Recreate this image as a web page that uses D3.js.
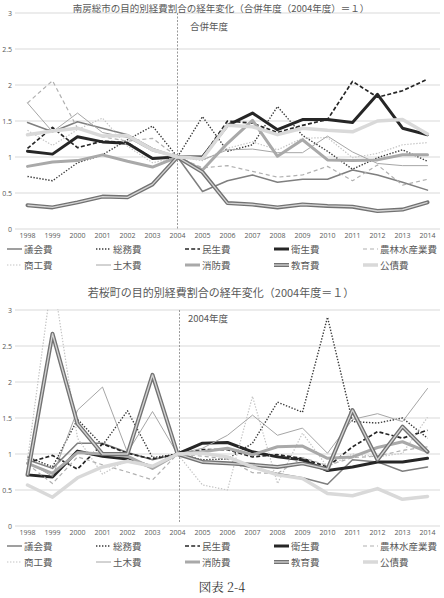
<!DOCTYPE html>
<html><head><meta charset="utf-8">
<script src="https://cdn.jsdelivr.net/npm/d3@7"></script>
<style>
html,body{margin:0;padding:0;background:#fff;}
svg{display:block;font-family:"Noto Sans CJK JP","Noto Sans",sans-serif;}
</style></head>
<body><svg id="c" width="444" height="598"></svg>
<script>
const years = ["1998","1999","2000","2001","2002","2003","2004","2005","2006","2007","2008","2009","2010","2011","2012","2013","2014"];
const yTicks = [0, 0.5, 1, 1.5, 2, 2.5, 3];
const yTickLabels = ["0","0.5","1","1.5","2","2.5","3"];
const seriesNames = ["議会費","総務費","民生費","衛生費","農林水産業費","商工費","土木費","消防費","教育費","公債費"];

// 南房総市 (2004 = 1)
const mbGikai   = [1.48,1.35,1.49,1.40,1.31,1.12,1,0.52,0.67,0.75,0.65,0.69,0.69,0.82,0.75,0.65,0.54];
const mbSomu    = [0.73,0.67,0.92,1.03,1.24,1.43,1,1.56,1.08,1.17,1.70,1.30,1.08,0.83,0.99,1.10,0.94];
const mbMinsei  = [1.12,1.41,1.13,1.22,1.20,0.98,1,1.00,1.50,1.47,1.34,1.44,1.52,2.05,1.83,1.92,2.08];
const mbEisei   = [1.08,1.04,1.28,1.21,1.19,0.98,1,1.00,1.44,1.61,1.38,1.52,1.52,1.48,1.87,1.40,1.31];
const mbNorin   = [1.75,2.06,1.40,1.28,1.22,1.26,1,0.85,0.88,0.80,0.72,0.75,0.87,0.67,0.89,0.61,0.69];
const mbShoko   = [1.37,1.16,1.38,1.54,1.15,0.92,1,0.95,1.12,1.21,1.10,1.26,1.27,0.99,1.05,1.17,1.20];
const mbDoboku  = [1.75,1.35,1.61,1.34,1.27,1.08,1,0.96,1.10,1.11,1.06,1.06,1.29,1.07,0.91,0.88,0.88];
const mbShobo   = [0.87,0.93,0.95,1.03,0.94,0.86,1,0.82,1.19,1.51,1.01,1.24,0.96,0.95,0.96,1.03,1.03];
const mbKyoiku  = [0.33,0.30,0.37,0.45,0.44,0.62,1,0.79,0.36,0.34,0.30,0.34,0.32,0.31,0.25,0.27,0.37];
const mbKosai   = [1.31,1.36,1.40,1.29,1.30,1.10,1,0.98,1.44,1.42,1.31,1.40,1.37,1.35,1.50,1.52,1.32];

// 若桜町 (2004 = 1)
const wkGikai   = [0.92,0.80,1.15,1.15,1.02,0.92,1,0.90,0.88,0.81,0.73,0.67,0.58,0.92,0.89,0.76,0.82];
const wkSomu    = [0.96,0.82,1.48,1.12,1.60,0.95,1,0.92,0.93,1.15,1.72,1.58,2.90,1.45,1.43,1.50,1.22];
const wkMinsei  = [0.88,0.98,0.79,1.14,1.01,0.93,1,1.06,1.06,0.96,0.99,0.94,0.82,1.10,1.31,1.22,1.33];
const wkEisei   = [0.71,0.68,1.04,0.97,0.93,0.82,1,1.15,1.16,1.03,0.96,0.92,0.77,0.82,0.89,0.89,0.94];
const wkNorin   = [0.86,0.59,0.96,0.85,0.75,0.64,1,0.97,0.93,0.74,0.73,0.95,0.84,0.95,0.97,1.05,1.10];
const wkShoko   = [0.92,3.50,1.22,0.72,0.92,0.80,1,0.57,0.50,1.80,0.59,1.29,0.82,1.00,0.96,1.01,1.51];
const wkDoboku  = [0.89,0.69,1.61,1.93,1.02,1.59,1,1.08,1.26,1.54,1.26,1.36,1.01,1.48,1.56,1.45,1.91];
const wkShobo   = [0.87,0.73,1.02,1.00,0.97,0.80,1,1.03,1.08,0.99,1.10,1.11,0.94,0.96,1.09,1.17,1.03];
const wkKyoiku  = [0.71,2.67,1.42,1.00,1.00,2.10,1,0.89,0.87,0.85,0.82,0.87,0.79,1.61,0.92,1.38,1.03];
const wkKosai   = [0.57,0.40,0.67,0.82,0.90,0.83,1,1.01,0.96,0.82,0.71,0.66,0.45,0.42,0.52,0.37,0.41];

const mbData = [mbGikai,mbSomu,mbMinsei,mbEisei,mbNorin,mbShoko,mbDoboku,mbShobo,mbKyoiku,mbKosai];
const wkData = [wkGikai,wkSomu,wkMinsei,wkEisei,wkNorin,wkShoko,wkDoboku,wkShobo,wkKyoiku,wkKosai];

const styles = [
  {c:"#7f7f7f", w:1.5},
  {c:"#3a3a3a", w:1.4, d:"1.4,1.6"},
  {c:"#262626", w:1.7, d:"4,2.2"},
  {c:"#262626", w:3},
  {c:"#b0b0b0", w:1.2, d:"4,3"},
  {c:"#c4c4c4", w:1.2, d:"1.4,1.6"},
  {c:"#a6a6a6", w:1},
  {c:"#a9a9a9", w:3},
  {c:"#727272", w:4, inner:"#d4d4d4", iw:1.3},
  {c:"#d9d9d9", w:3.5}
];

const svg = d3.select("#c");
const textCol = "#595959";

const x = d3.scaleBand().domain(years).range([15, 440]).padding(0);
const cx = d => x(d) + x.bandwidth()/2;

function panel(opts){
  const y = d3.scaleLinear().domain([0,3]).range([opts.bottom, opts.top]);
  const g = svg.append("g");
  const clipId = "clip" + opts.id;
  svg.append("clipPath").attr("id", clipId).append("rect")
    .attr("x", 15).attr("y", opts.top - 1).attr("width", 426).attr("height", opts.bottom - opts.top + 2);

  g.selectAll("line.grid").data(yTicks).join("line")
    .attr("x1", 15).attr("x2", 440)
    .attr("y1", d => y(d)).attr("y2", d => y(d))
    .attr("stroke", "#d9d9d9").attr("stroke-width", 1);

  const yAxis = d3.axisLeft(y).tickValues(yTicks).tickFormat((d,i) => yTickLabels[i]).tickSize(0).tickPadding(2);
  const ya = g.append("g").attr("transform", "translate(14,0)").call(yAxis);
  ya.select(".domain").remove();
  ya.selectAll("text").attr("fill", textCol).style("font-size", "7px").style("font-family", "'Open Sans','Noto Sans',sans-serif");

  const xAxis = d3.axisBottom(x).tickSize(0).tickPadding(4);
  const xa = g.append("g").attr("transform", `translate(0,${opts.bottom})`).call(xAxis);
  xa.select(".domain").remove();
  xa.selectAll("text").attr("fill", textCol).style("font-size", "7px").style("font-family", "'Open Sans','Noto Sans',sans-serif");

  g.append("line")
    .attr("x1", cx("2004") + opts.vOff).attr("x2", cx("2004") + opts.vOff)
    .attr("y1", opts.top).attr("y2", opts.vBottom)
    .attr("stroke", "#9a9a9a").attr("stroke-width", 1).attr("stroke-dasharray", "2,1.5");
  g.append("text").attr("x", opts.labelX).attr("y", opts.labelY)
    .attr("fill", textCol).style("font-size", "9.5px").text(opts.label);

  const line = d3.line().x((d,i) => cx(years[i])).y(d => y(d));
  const lg = g.append("g").attr("clip-path", `url(#${clipId})`);
  opts.data.forEach((vals, k) => {
    const s = styles[k];
    lg.append("path").datum(vals).attr("d", line)
      .attr("fill", "none").attr("stroke", s.c).attr("stroke-width", s.w)
      .attr("stroke-linejoin", "round").attr("stroke-linecap", s.d ? "butt" : "round")
      .attr("stroke-dasharray", s.d || null);
    if (s.inner) {
      lg.append("path").datum(vals).attr("d", line)
        .attr("fill", "none").attr("stroke", s.inner).attr("stroke-width", s.iw)
        .attr("stroke-linejoin", "round");
    }
  });

  const colX = [7, 96, 185, 274, 363];
  seriesNames.forEach((name, k) => {
    const s = styles[k];
    const row = Math.floor(k / 5), col = k % 5;
    const lx = colX[col], ly = opts.legendY + row * 16;
    const lgi = g.append("g");
    lgi.append("line").attr("x1", lx).attr("x2", lx + 15).attr("y1", ly).attr("y2", ly)
      .attr("stroke", s.c).attr("stroke-width", s.w).attr("stroke-dasharray", s.d || null);
    if (s.inner) {
      lgi.append("line").attr("x1", lx).attr("x2", lx + 15).attr("y1", ly).attr("y2", ly)
        .attr("stroke", s.inner).attr("stroke-width", s.iw);
    }
    lgi.append("text").attr("x", lx + 17).attr("y", ly + 3.5)
      .attr("fill", textCol).style("font-size", "9.5px").text(name);
  });

  svg.append("text").attr("x", 221).attr("y", opts.titleY).attr("text-anchor", "middle")
    .attr("fill", textCol).style("font-size", opts.titleSize).text(opts.title);
}

panel({id:"a", top:13, bottom:229, vBottom:229, vOff:0, data:mbData,
  label:"合併年度", labelX:190, labelY:30, legendY:249,
  title:"南房総市の目的別経費割合の経年変化（合併年度（2004年度）＝１）", titleY:11.5, titleSize:"9.5px"});
panel({id:"b", top:310, bottom:526, vBottom:522, vOff:2, data:wkData,
  label:"2004年度", labelX:188, labelY:322, legendY:546,
  title:"若桜町の目的別経費割合の経年変化（2004年度＝１）", titleY:297, titleSize:"11px"});

svg.append("text").attr("x", 222).attr("y", 592).attr("text-anchor", "middle")
  .attr("fill", "#333").style("font-size", "12.5px")
  .style("font-family", "'Noto Serif CJK JP','Liberation Serif','Noto Sans CJK JP',serif")
  .text("図表 2-4");
</script></body></html>
